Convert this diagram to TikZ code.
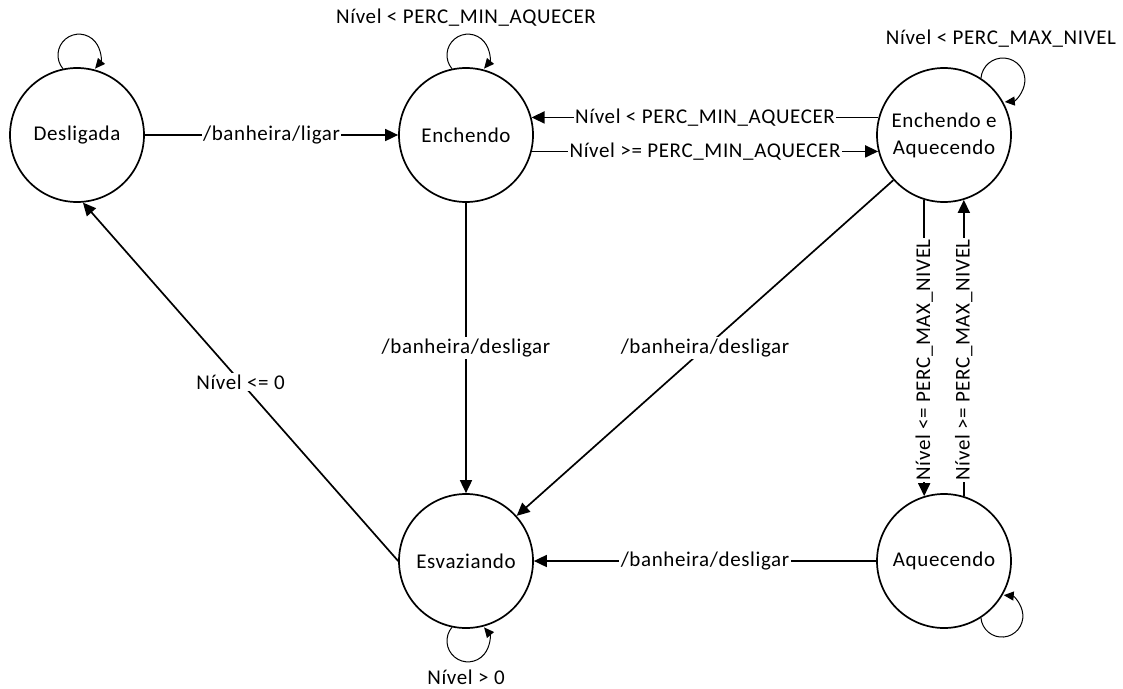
\documentclass[tikz,border=0pt]{standalone}
\usepackage{fontspec}
\setmainfont{Carlito}[LetterSpace=3]
\usetikzlibrary{arrows.meta}

\tikzset{every picture/.style={line width=1.7pt}}
\tikzset{
  state/.style={draw, circle, minimum size=134pt, inner sep=0pt, align=center, font=\fontsize{21}{27}\selectfont},
  trans/.style={-{Triangle[length=13pt,width=12pt]}},
  lbl/.style={fill=white, inner sep=1.5pt, font=\fontsize{21}{25}\selectfont},
  selfloop/.style={line width=1pt, -{Triangle[length=10pt,width=9pt]}}
}

\begin{document}
\begin{tikzpicture}[x=1pt,y=-1pt]
		\useasboundingbox (0,0) rectangle (1123,688);

		% estados
		\node[state] (desl) at (77,135) {Desligada};
		\node[state] (ench) at (466,135) {Enchendo};
		\node[state] (enaq) at (944,135) {Enchendo e\\Aquecendo};
		\node[state] (esv) at (466,561) {Esvaziando};
		\node[state] (aq) at (944,561) {Aquecendo};

		% transicoes
		\draw[trans] (desl) -- node[lbl] {/banheira/ligar} (ench);
		\draw[trans] (enaq.165) -- node[lbl] {Nível < PERC\_MIN\_AQUECER} (ench.15);
		\draw[trans] (ench.-14) -- node[lbl] {Nível >= PERC\_MIN\_AQUECER} (enaq.-166);
		\draw[trans] (ench) -- node[lbl] {/banheira/desligar} (esv);
		\draw[trans] (enaq) -- node[lbl] {/banheira/desligar} (esv);
		\draw[trans] (aq) -- node[lbl] {/banheira/desligar} (esv);
		\draw[trans] (esv.west) -- node[lbl] {Nível <= 0} (desl.-85);
		\draw[trans] (enaq.-107) -- node[lbl, rotate=90, pos=0.54] {Nível <= PERC\_MAX\_NIVEL} (aq.107);
		\draw[trans] (aq.73) -- node[lbl, rotate=90, pos=0.46] {Nível >= PERC\_MAX\_NIVEL} (enaq.-73);

		% lacos
		\draw[selfloop] (desl.102) arc[start angle=220, end angle=-40, radius=21pt];
		\draw[selfloop] (ench.102) arc[start angle=220, end angle=-40, radius=21pt];
		\draw[selfloop] (enaq.57) arc[start angle=175, end angle=-85, radius=22pt];
		\draw[selfloop] (esv.-102) arc[start angle=140, end angle=400, radius=21pt];
		\draw[selfloop] (aq.-57) arc[start angle=185, end angle=445, radius=21pt];

		\node[lbl] (lench) at (466,18) {Nível < PERC\_MIN\_AQUECER};
		\node[lbl] (lenaq) at (1001,39) {Nível < PERC\_MAX\_NIVEL};
		\node[lbl] (lesv) at (466,677) {Nível > 0};
\end{tikzpicture}
\end{document}
